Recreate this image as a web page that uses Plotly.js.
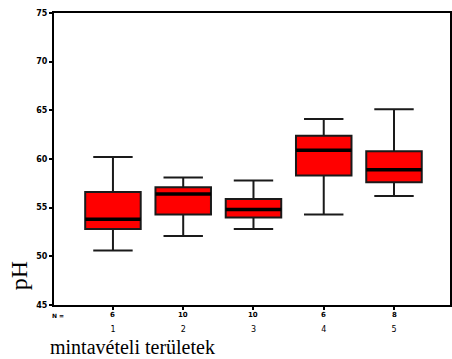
<!DOCTYPE html>
<html><head><meta charset="utf-8">
<script src="https://cdn.plot.ly/plotly-3.0.1.min.js"></script>
<style>html,body{margin:0;padding:0;background:#fff}#chart{width:452px;height:359px}</style>
</head><body><div id="chart"></div>
<script>
var categories = [1, 2, 3, 4, 5];
var categoryLabels = ["1", "2", "3", "4", "5"];
var counts = ["6", "10", "10", "6", "8"];
var lowerWhisker = [5.06, 5.21, 5.28, 5.43, 5.62];
var q1 = [5.28, 5.43, 5.40, 5.83, 5.76];
var median = [5.38, 5.64, 5.48, 6.09, 5.89];
var q3 = [5.66, 5.71, 5.59, 6.24, 6.08];
var upperWhisker = [6.02, 5.81, 5.78, 6.41, 6.51];
var yTickVals = [4.5, 5.0, 5.5, 6.0, 6.5, 7.0, 7.5];
var yTickText = ["45", "50", "55", "60", "65", "70", "75"];

var boxWidth = 0.79;
var traces = [{
  type: 'box', x: categories, q1: q1, median: median, q3: q3,
  lowerfence: lowerWhisker, upperfence: upperWhisker,
  width: boxWidth, whiskerwidth: 0.71,
  fillcolor: '#ff0000', line: {color: '#1a1a1a', width: 2},
  boxpoints: false, hoverinfo: 'skip', showlegend: false
}];
// thicker median lines
var mx = [], my = [];
categories.forEach(function (c, i) {
  mx.push(c - boxWidth / 2, c + boxWidth / 2, null);
  my.push(median[i], median[i], null);
});
traces.push({type: 'scatter', mode: 'lines', x: mx, y: my,
  line: {color: '#000', width: 3.5}, hoverinfo: 'skip', showlegend: false});

var ann = [];
categories.forEach(function (c, i) {
  ann.push({x: c, xref: 'x', y: 0, yref: 'paper', yshift: -10, yanchor: 'middle', showarrow: false,
    text: '<b>' + counts[i] + '</b>', font: {family: 'DejaVu Sans', size: 7, color: '#000'}});
});
ann.push({xref: 'paper', x: -0.01, yref: 'paper', y: 0, yshift: -10, yanchor: 'middle', showarrow: false,
  text: '<b>N =</b>', font: {family: 'DejaVu Sans', size: 6, color: '#000'}});
ann.push({xref: 'paper', x: -0.015, xanchor: 'left', yref: 'paper', y: 0, yshift: -42,
  yanchor: 'middle', showarrow: false, text: 'mintavételi területek',
  font: {family: 'Liberation Serif', size: 20, color: '#000'}});
ann.push({xref: 'paper', x: -0.09, xanchor: 'center', yref: 'paper', y: 0.10,
  yanchor: 'middle', showarrow: false, textangle: -90, text: 'pH',
  font: {family: 'Liberation Serif', size: 24, color: '#000'}});

var layout = {
  width: 452, height: 359,
  margin: {l: 54, r: 2, t: 13, b: 54},
  paper_bgcolor: '#fff', plot_bgcolor: '#fff',
  xaxis: {range: [0.161, 5.797], tickvals: categories, ticktext: categoryLabels,
    ticks: 'outside', ticklen: 3, tickwidth: 2, tickcolor: '#000',
    showline: true, linecolor: '#000', linewidth: 2, mirror: true,
    showgrid: false, zeroline: false, ticklabelstandoff: 12,
    tickfont: {family: 'DejaVu Sans', size: 8, color: '#000'}},
  yaxis: {range: [4.5, 7.5], tickvals: yTickVals, ticktext: yTickText,
    ticks: 'outside', ticklen: 3, tickwidth: 2, tickcolor: '#000',
    showline: true, linecolor: '#000', linewidth: 2, mirror: true,
    showgrid: false, zeroline: false,
    tickfont: {family: 'DejaVu Sans', size: 8, color: '#000', weight: 'bold'}},
  annotations: ann
};
Plotly.newPlot('chart', traces, layout, {displayModeBar: false, staticPlot: true});
</script></body></html>
